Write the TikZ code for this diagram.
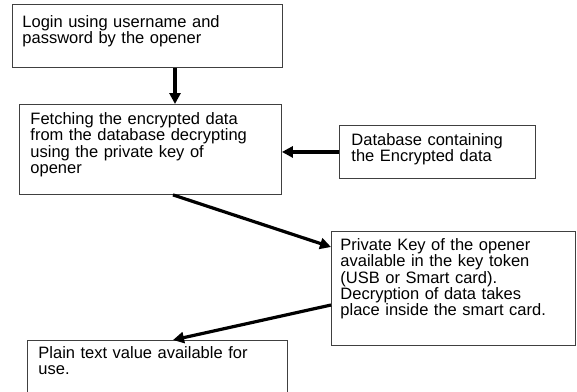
\documentclass[tikz,border=0pt]{standalone}
\usepackage{fontspec}
\setmainfont{Liberation Sans}
\usetikzlibrary{arrows.meta}

\tikzset{
	box/.style={draw=black!75, line width=0.9pt, anchor=north west, align=left, inner ysep=0pt,
		font={\fontsize{16.5}{16.3}\selectfont\fontdimen2\font=10pt\relax}},
	flow/.style={line width=3.2pt, -{Triangle[length=11pt,width=11pt]}}
}

\begin{document}
\begin{tikzpicture}[x=1pt, y=-1pt]
	% page area, the last box runs off the bottom
	\clip (0,0) rectangle (577,391);
	% draw the steps
	\node [box, text width=250pt, inner xsep=10pt, text height=23pt, text depth=40pt] (login) at (12,4)
		{Login using username and\\password by the opener};
	\node [box, text width=240pt, inner xsep=11pt, text height=20pt, text depth=70pt] (fetch) at (19,104)
		{Fetching the encrypted data\\from the database decrypting\\using the private key of\\opener};
	\node [box, text width=172pt, inner xsep=12pt, text height=20pt, text depth=33pt] (database) at (339,125)
		{Database containing\\the Encrypted data};
	\node [box, text width=226pt, inner xsep=9pt, text height=19pt, text depth=95pt] (privkey) at (331,231)
		{Private Key of the opener\\available in the key token\\(USB or Smart card).\\Decryption of data takes\\place inside the smart card.};
	\node [box, text width=238pt, inner xsep=11pt, text height=18pt, text depth=42pt] (plain) at (27,340)
		{Plain text value available for\\use.};
	% arrows between the steps
	\draw [flow] ([xshift=163pt]login.south west) -- ([xshift=156pt]fetch.north west);
	\draw [flow] (database.west) -- (database.west -| fetch.east);
	\draw [flow] ([xshift=154pt]fetch.south west) -- ([yshift=-16pt]privkey.north west);
	\draw [flow] ([yshift=-74pt]privkey.north west) -- ([xshift=146pt]plain.north west);
\end{tikzpicture}
\end{document}
